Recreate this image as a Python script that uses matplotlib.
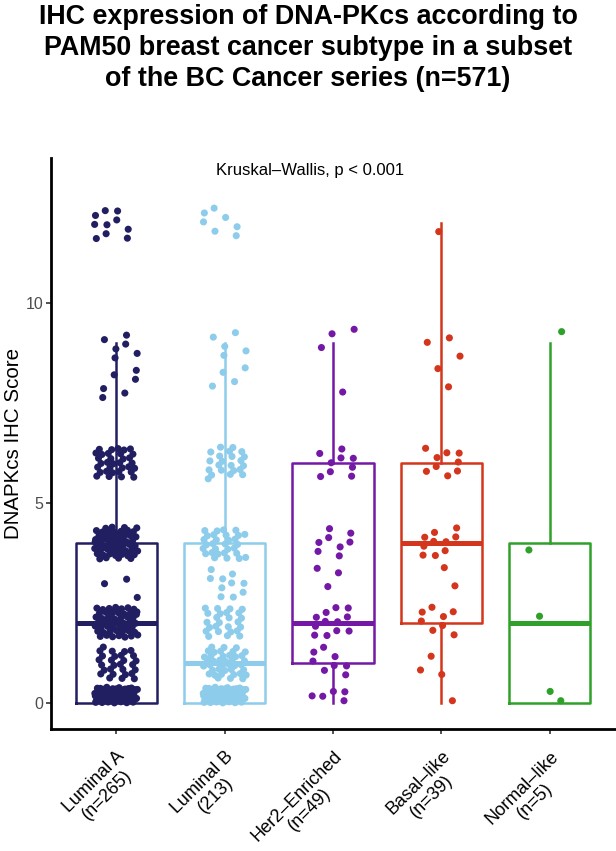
import numpy as np
import matplotlib
matplotlib.use("Agg")
import matplotlib.pyplot as plt

plt.rcParams['font.family'] = ['Liberation Sans', 'DejaVu Sans']

# IHC score levels (proportion x intensity) and number of cases at each level
score_levels = [0, 1, 2, 3, 4, 6, 8, 9, 12]
lum_a_counts = [69, 28, 52, 3, 58, 33, 6, 6, 10]
lum_b_counts = [70, 40, 25, 10, 30, 22, 4, 5, 7]
her2_counts = [5, 8, 12, 3, 8, 9, 1, 3, 0]
basal_counts = [1, 3, 8, 2, 10, 9, 2, 3, 1]
normal_counts = [2, 0, 1, 0, 1, 0, 0, 1, 0]

group_labels = ['Luminal A\n(n=265)', 'Luminal B\n(213)', 'Her2\u2013Enriched\n(n=49)',
                'Basal\u2013like\n(n=39)', 'Normal\u2013like\n(n=5)']
group_colors = ['#221E62', '#8DCDEB', '#7418A6', '#D3361C', '#2FA02A']
all_counts = [lum_a_counts, lum_b_counts, her2_counts, basal_counts, normal_counts]


def expand(counts):
    return np.repeat(score_levels, counts).astype(float)


def jitter(n, width, height):
    # deterministic low-discrepancy spread (R2 sequence), stands in for geom_jitter
    i = np.arange(1, n + 1)
    u = (i * 0.7548776662) % 1
    v = (i * 0.5698402910) % 1
    return (u - 0.5) * 2 * width, (v - 0.5) * 2 * height


fig = plt.figure(figsize=(6.16, 8.51), dpi=100)
ax = fig.add_axes([0.083, 0.1434, 0.915, 0.671])

for k, (counts, col) in enumerate(zip(all_counts, group_colors)):
    pos = k + 1
    vals = expand(counts)
    ax.boxplot(vals, positions=[pos], widths=0.75, whis=1.5, showfliers=False,
               showcaps=False, patch_artist=False,
               boxprops=dict(color=col, linewidth=1.8),
               whiskerprops=dict(color=col, linewidth=1.8),
               medianprops=dict(color=col, linewidth=3.6, solid_capstyle='butt'),
               zorder=2)
    dx, dy = jitter(len(vals), 0.2, 0.4)
    yj = vals + dy
    yj = np.where(vals == 0, np.abs(dy), yj)
    ax.scatter(pos + dx, yj, s=26, color=col, edgecolors='none', zorder=3)

ax.text(2.79, 13.3, 'Kruskal\u2013Wallis, p < 0.001', ha='center', va='center',
        fontsize=12, color='black')

ax.set_xlim(0.4, 5.6)
ax.set_ylim(-0.65, 13.62)
ax.set_yticks([0, 5, 10])
ax.set_yticklabels(['0', '5', '10'], fontsize=11.5, color='#4D4D4D')
ax.set_xticks([1, 2, 3, 4, 5])
ax.set_xticklabels(group_labels, fontsize=13, color='black', rotation=45,
                   ha='right', va='top', rotation_mode='anchor', multialignment='center',
                   linespacing=1.12)
ax.tick_params(axis='both', length=3.5, width=1.2, color='#333333')
ax.tick_params(axis='x', pad=10)
ax.tick_params(axis='y', pad=2)
ax.set_ylabel('DNAPKcs IHC Score', fontsize=14.8, labelpad=2)

for side in ['top', 'right']:
    ax.spines[side].set_visible(False)
for side in ['left', 'bottom']:
    ax.spines[side].set_linewidth(2.0)
    ax.spines[side].set_color('black')

fig.text(0.5, 0.995, 'IHC expression of DNA-PKcs according to\nPAM50 breast cancer subtype in a subset\nof the BC Cancer series (n=571)',
         ha='center', va='top', fontsize=19.4, fontweight='bold', linespacing=1.24)

fig.savefig('out.png', dpi=100)
